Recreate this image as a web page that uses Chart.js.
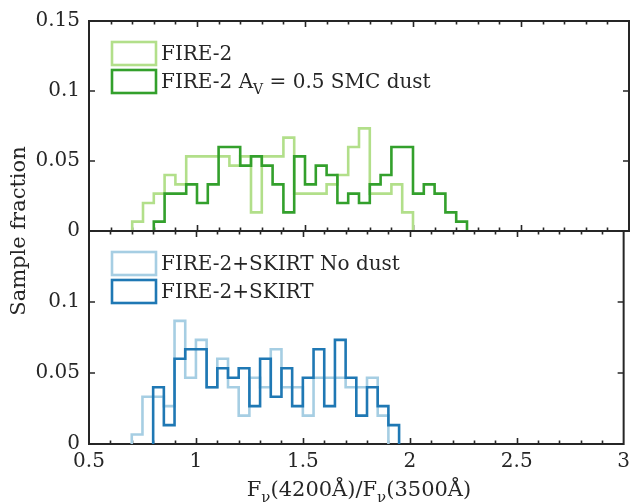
<!DOCTYPE html>
<html><head><meta charset="utf-8">
<script src="https://cdn.jsdelivr.net/npm/chart.js@4.4.1/dist/chart.umd.min.js"></script>
<style>
html,body{margin:0;padding:0;background:#fff;}
#wrap{position:relative;width:636px;height:504px;background:#fff;}
canvas{position:absolute;left:0;top:0;}
</style></head>
<body><div id="wrap"><canvas id="cTop" width="636" height="504"></canvas><canvas id="cBot" width="636" height="504"></canvas></div>
<script>
// ---- data (sample fractions per 0.05-wide bin) ----
const binWidth = 0.05;
const topBinLefts = [0.70,0.75,0.80,0.85,0.90,0.95,1.00,1.05,1.10,1.15,1.20,1.25,1.30,1.35,1.40,1.45,1.50,1.55,1.60,1.65,1.70,1.75,1.80,1.85,1.90,1.95,2.00,2.05,2.10,2.15,2.20];
const fire2 = [0.0067,0.0200,0.0267,0.0400,0.0333,0.0533,0.0533,0.0533,0.0533,0.0467,0.0533,0.0133,0.0533,0.0533,0.0667,0.0267,0.0267,0.0267,0.0333,0.0400,0.0600,0.0733,0.0267,0.0267,0.0333,0.0133,0,0,0,0,0];
const fire2Dust = [0,0,0.0067,0.0267,0.0267,0.0333,0.0200,0.0333,0.0600,0.0600,0.0467,0.0533,0.0467,0.0333,0.0133,0.0533,0.0333,0.0467,0.0400,0.0200,0.0267,0.0200,0.0333,0.0400,0.0600,0.0600,0.0267,0.0333,0.0267,0.0133,0.0067];
const botBinLefts = [0.70,0.75,0.80,0.85,0.90,0.95,1.00,1.05,1.10,1.15,1.20,1.25,1.30,1.35,1.40,1.45,1.50,1.55,1.60,1.65,1.70,1.75,1.80,1.85,1.90];
const skirtNoDust = [0.0067,0.0333,0.0333,0.0267,0.0867,0.0467,0.0733,0.0400,0.0600,0.0400,0.0200,0.0467,0.0400,0.0667,0.0400,0.0400,0.0200,0.0467,0.0467,0.0467,0.0400,0.0400,0.0467,0.0200,0];
const skirt = [0,0,0.0400,0.0133,0.0600,0.0667,0.0667,0.0400,0.0533,0.0467,0.0533,0.0267,0.0600,0.0333,0.0533,0.0267,0.0467,0.0667,0.0267,0.0733,0.0467,0.0200,0.0400,0.0267,0.0133];
const seriesLabels = ['FIRE-2', 'FIRE-2 A_V = 0.5 SMC dust', 'FIRE-2+SKIRT No dust', 'FIRE-2+SKIRT'];
const yTickValues = [0, 0.05, 0.1, 0.15];
const xRange = [0.5, 3];
const yRange = [0, 0.15];

// ---- styling ----
const FONT = 'DejaVu Serif';
const AX = '#262626';
const C_LG = '#b2df8a', C_DG = '#33a02c', C_LB = '#a6cee3', C_DB = '#1f78b4';

function outline(lefts, vals) {
  let i0 = vals.findIndex(v => v > 0), i1 = vals.length - 1;
  while (i1 > 0 && !(vals[i1] > 0)) i1--;
  const pts = [{x: lefts[i0], y: 0}];
  for (let i = i0; i <= i1; i++) pts.push({x: lefts[i], y: vals[i]});
  pts.push({x: lefts[i1] + binWidth, y: 0});
  return pts;
}
function ds(label, lefts, vals, color, order) {
  return {label, data: outline(lefts, vals), borderColor: color, borderWidth: 2.6,
    stepped: true, pointRadius: 0, fill: false, tension: 0, order,
    borderJoinStyle: 'miter', borderCapStyle: 'butt'};
}
const fmt = v => String(+(+v).toFixed(2));

function richWidth(ctx, parts, size) {
  let w = 0;
  for (const p of parts) { ctx.font = (p.sub ? Math.round(size*0.7) : size) + 'px "' + FONT + '"'; w += ctx.measureText(p.t).width; }
  return w;
}
function drawRich(ctx, parts, x, y, size) {
  ctx.textBaseline = 'alphabetic'; ctx.textAlign = 'left';
  for (const p of parts) {
    const s = p.sub ? Math.round(size*0.7) : size;
    ctx.font = s + 'px "' + FONT + '"';
    ctx.fillText(p.t, x, y + (p.sub ? size*0.28 : 0));
    x += ctx.measureText(p.t).width;
  }
}
function labelParts(label) {
  if (label.includes('A_V')) {
    const [a, b] = label.split('A_V');
    return [{t: a + 'A'}, {t: 'V', sub: true}, {t: b}];
  }
  return [{t: label}];
}

const framePlugin = {
  id: 'frame',
  beforeDatasetsDraw(chart) {
    const {ctx, chartArea: {left, right, top, bottom}, scales} = chart;
    ctx.save();
    ctx.strokeStyle = AX; ctx.lineWidth = 2;
    ctx.strokeRect(left, top, right - left, bottom - top);
    const xs = scales.x, ys = scales.y;
    ctx.lineWidth = 1.6;
    ctx.beginPath();
    for (let i = 1; i < 25; i++) {
      const v = xRange[0] + i * 0.1;
      const px = Math.round(xs.getPixelForValue(v)) + 0.5;
      const L = (i % 5 === 0) ? 6 : 3.5;
      ctx.moveTo(px, bottom); ctx.lineTo(px, bottom - L);
      ctx.moveTo(px, top); ctx.lineTo(px, top + L);
    }
    for (const v of yTickValues) {
      const py = ys.getPixelForValue(v);
      ctx.moveTo(left, py); ctx.lineTo(left + 6, py);
      ctx.moveTo(right, py); ctx.lineTo(right - 6, py);
    }
    ctx.stroke();
    ctx.restore();
  }
};
const legendPlugin = {
  id: 'panelLegend',
  afterDatasetsDraw(chart, args, opts) {
    const {ctx, chartArea: {top}} = chart;
    ctx.save();
    opts.items.forEach((it, k) => {
      const by = top + 21 + k * 28;
      ctx.strokeStyle = it.color; ctx.lineWidth = 2.6;
      ctx.strokeRect(112, by, 44, 23);
      ctx.fillStyle = AX;
      drawRich(ctx, labelParts(it.label), 161, by + 18, 20);
    });
    ctx.restore();
  }
};
const titlePlugin = {
  id: 'titles',
  afterDraw(chart) {
    const ctx = chart.ctx;
    ctx.save();
    ctx.fillStyle = AX;
    const parts = [{t: 'F'}, {t: 'ν', sub: true}, {t: '(4200Å)/F'}, {t: 'ν', sub: true}, {t: '(3500Å)'}];
    const w = richWidth(ctx, parts, 21);
    drawRich(ctx, parts, 359 - w / 2, 496, 21);
    ctx.translate(25, 231);
    ctx.rotate(-Math.PI / 2);
    ctx.font = '21px "' + FONT + '"';
    ctx.textAlign = 'center'; ctx.textBaseline = 'alphabetic';
    ctx.fillText('Sample fraction', 0, 0);
    ctx.restore();
  }
};

function yScale(showTopLabel) {
  return {
    type: 'linear', min: yRange[0], max: yRange[1],
    grid: {display: false, drawTicks: false}, border: {display: false},
    ticks: {stepSize: 0.05, padding: 9, color: AX, font: {family: FONT, size: 20}, callback: v => fmt(v)},
    afterBuildTicks: s => { if (!showTopLabel) s.ticks = s.ticks.filter(t => t.value < 0.149); },
    afterFit: s => { s.width = 89; }
  };
}
function xScale(show) {
  return {
    type: 'linear', min: xRange[0], max: xRange[1], display: show,
    grid: {display: false, drawTicks: false}, border: {display: false},
    ticks: {stepSize: 0.5, padding: 6, maxRotation: 0, color: AX, font: {family: FONT, size: 20}, callback: v => fmt(v)},
    afterFit: s => { s.height = show ? 60 : 0; }
  };
}

new Chart(document.getElementById('cTop'), {
  type: 'line',
  data: {datasets: [ds(seriesLabels[0], topBinLefts, fire2, C_LG, 2), ds(seriesLabels[1], topBinLefts, fire2Dust, C_DG, 1)]},
  options: {
    responsive: false, animation: false, events: [],
    layout: {padding: {left: 0, right: 7, top: 18, bottom: 273}},
    plugins: {legend: {display: false}, tooltip: {enabled: false},
      panelLegend: {items: [{label: seriesLabels[0], color: C_LG}, {label: seriesLabels[1], color: C_DG}]}},
    scales: {x: xScale(false), y: yScale(true)}
  },
  plugins: [framePlugin, legendPlugin]
});
new Chart(document.getElementById('cBot'), {
  type: 'line',
  data: {datasets: [ds(seriesLabels[2], botBinLefts, skirtNoDust, C_LB, 2), ds(seriesLabels[3], botBinLefts, skirt, C_DB, 1)]},
  options: {
    responsive: false, animation: false, events: [],
    layout: {padding: {left: 0, right: 7, top: 231, bottom: 0}},
    plugins: {legend: {display: false}, tooltip: {enabled: false},
      panelLegend: {items: [{label: seriesLabels[2], color: C_LB}, {label: seriesLabels[3], color: C_DB}]}},
    scales: {x: xScale(true), y: yScale(false)}
  },
  plugins: [framePlugin, legendPlugin, titlePlugin]
});
</script>
</body></html>
